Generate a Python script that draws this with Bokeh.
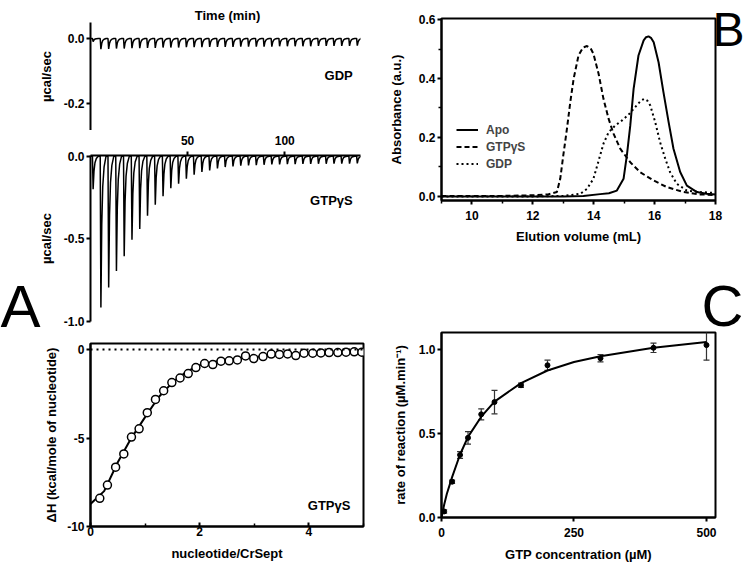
from bokeh.plotting import figure
from bokeh.models import (ColumnDataSource, FixedTicker, NumeralTickFormatter, Label,
                          Span, Whisker, TeeHead, GridBox)
from bokeh.layouts import column
from bokeh.embed import file_html
from bokeh.resources import INLINE

FONT = "Liberation Sans"

# ---------------- data: ITC raw traces ----------------
inj_time = [1, 5, 9, 13, 17, 21, 25, 29, 33, 37, 41, 45, 49, 53, 57, 61, 65, 69,
            73, 77, 81, 85, 89, 93, 97, 101, 105, 109, 113, 117, 121, 125, 129, 133, 137]
gdp_peak = [-0.010, -0.033, -0.032, -0.031, -0.031, -0.030, -0.030, -0.029, -0.029,
            -0.028, -0.028, -0.028, -0.027, -0.027, -0.027, -0.026, -0.026, -0.026,
            -0.026, -0.025, -0.025, -0.025, -0.025, -0.025, -0.024, -0.024, -0.024,
            -0.024, -0.024, -0.023, -0.023, -0.023, -0.023, -0.023, -0.022]
gtp_peak = [-0.20, -0.916, -0.794, -0.694, -0.606, -0.506, -0.44, -0.36, -0.294,
            -0.242, -0.194, -0.166, -0.136, -0.112, -0.096, -0.086, -0.074, -0.066,
            -0.062, -0.058, -0.056, -0.054, -0.052, -0.050, -0.050, -0.048, -0.048,
            -0.047, -0.047, -0.046, -0.046, -0.045, -0.045, -0.045, -0.044]
# shape of one injection spike (time offset in min, fraction of the peak)
spike_dt = [0.0, 0.35, 0.8, 1.3, 2.0, 3.0]
spike_frac = [0.0, 1.0, 0.45, 0.2, 0.07, 0.0]
time_end = 139

# ---------------- data: integrated heats ----------------
molar_ratio = [0.17, 0.31, 0.46, 0.61, 0.75, 0.89, 1.04, 1.19, 1.34, 1.49, 1.64, 1.79,
               1.93, 2.09, 2.24, 2.39, 2.54, 2.69, 2.84, 2.99, 3.16, 3.31, 3.46, 3.61,
               3.76, 3.91, 4.07, 4.22, 4.37, 4.53, 4.68, 4.83, 4.97]
delta_h = [-8.41, -7.66, -6.65, -5.90, -4.95, -4.48, -3.57, -2.82, -2.33, -1.87, -1.61,
           -1.36, -1.02, -0.79, -0.85, -0.66, -0.64, -0.59, -0.36, -0.51, -0.40, -0.26,
           -0.28, -0.25, -0.34, -0.21, -0.21, -0.19, -0.17, -0.17, -0.15, -0.13, -0.15]
fit_ratio = [0, 0.25, 0.5, 0.75, 1.0, 1.25, 1.5, 1.75, 2.0, 2.25, 2.5, 3.0, 3.5, 4.0, 4.5, 5.0]
fit_dh = [-8.73, -8.0, -6.37, -4.99, -3.82, -2.68, -1.87, -1.27, -0.89, -0.70, -0.57,
          -0.42, -0.30, -0.23, -0.19, -0.15]

# ---------------- data: size exclusion chromatography ----------------
apo_vol = [9, 10, 11, 12, 13, 13.66, 14.21, 14.5, 14.76, 14.98, 15.09, 15.2, 15.31,
           15.47, 15.64, 15.72, 15.8, 15.88, 15.97, 16.13, 16.29, 16.46, 16.62, 16.84,
           17.06, 17.39, 17.7, 18]
apo_abs = [0.0, 0.0, 0.0, 0.0, 0.0, 0.002, 0.008, 0.011, 0.02, 0.06, 0.14, 0.24, 0.365,
           0.478, 0.529, 0.540, 0.543, 0.538, 0.523, 0.455, 0.354, 0.252, 0.162, 0.083,
           0.037, 0.015, 0.009, 0.007]
gtps_vol = [9, 10, 11, 12, 12.5, 12.79, 12.9, 13.0, 13.12, 13.23, 13.34, 13.5, 13.65,
            13.78, 13.9, 13.99, 14.16, 14.32, 14.49, 14.65, 14.87, 15.2, 15.53, 15.97,
            16.4, 16.95, 17.5, 18]
gtps_abs = [0.002, 0.002, 0.002, 0.004, 0.007, 0.015, 0.06, 0.139, 0.229, 0.32, 0.399,
            0.478, 0.505, 0.51, 0.502, 0.484, 0.416, 0.331, 0.263, 0.213, 0.162, 0.116,
            0.082, 0.054, 0.032, 0.015, 0.007, 0.005]
gdp_vol = [9, 10, 11, 12, 13, 13.56, 13.78, 13.99, 14.21, 14.32, 14.49, 14.71, 14.93,
           15.14, 15.36, 15.55, 15.66, 15.76, 15.86, 16.02, 16.18, 16.35, 16.51, 16.73,
           17.06, 17.5, 18]
gdp_abs = [0.0, 0.0, 0.0, 0.0, 0.002, 0.009, 0.026, 0.06, 0.139, 0.179, 0.218, 0.241,
           0.258, 0.277, 0.303, 0.325, 0.331, 0.325, 0.308, 0.252, 0.184, 0.128, 0.082,
           0.043, 0.02, 0.015, 0.012]

# ---------------- data: GTPase kinetics ----------------
gtp_conc = [5, 20, 35, 50, 75, 100, 150, 200, 300, 400, 500]
rate = [0.036, 0.213, 0.372, 0.474, 0.614, 0.687, 0.787, 0.906, 0.948, 1.010, 1.026]
rate_err = [0.01, 0.01, 0.02, 0.037, 0.033, 0.07, 0.013, 0.03, 0.022, 0.028, 0.09]
fit_conc = [0, 5, 10, 20, 35, 50, 75, 100, 150, 200, 250, 300, 400, 500]
fit_rate = [0, 0.076, 0.14, 0.24, 0.375, 0.48, 0.60, 0.69, 0.80, 0.875, 0.925, 0.96,
            1.01, 1.045]

PAGE_W, PAGE_H = 744, 567


def build_trace(times, peaks):
    xs, ys = [0.0], [0.0]
    for t, h in zip(times, peaks):
        for dt, f in zip(spike_dt, spike_frac):
            xs.append(t + dt)
            ys.append(h * f)
    xs.append(time_end)
    ys.append(0.0)
    return xs, ys


def make_fig(fw, fh, xr, yr, left, right, top, bottom, **kw):
    p = figure(frame_width=fw, frame_height=fh, x_range=xr, y_range=yr,
               min_border_left=left, min_border_right=right,
               min_border_top=top, min_border_bottom=bottom,
               output_backend="svg", toolbar_location=None, **kw)
    p.grid.visible = False
    p.background_fill_color = "white"
    p.border_fill_color = "white"
    return p


def style_axes(p):
    for ax in p.axis:
        ax.axis_line_width = 2
        ax.axis_line_color = "black"
        ax.major_tick_line_width = 2
        ax.minor_tick_line_width = 1.5
        ax.major_tick_line_color = "black"
        ax.minor_tick_line_color = "black"
        ax.major_tick_out = 4
        ax.major_tick_in = 0
        ax.minor_tick_out = 3
        ax.minor_tick_in = 0
        ax.major_label_text_font = FONT
        ax.major_label_text_font_style = "bold"
        ax.major_label_text_font_size = "12px"
        ax.major_label_text_color = "black"
        ax.axis_label_text_font = FONT
        ax.axis_label_text_font_style = "bold"
        ax.axis_label_text_font_size = "13px"
        ax.axis_label_text_color = "black"
        ax.major_label_standoff = 2
        ax.axis_label_standoff = 5


def text_label(p, x, y, txt, align="right", size="13px", font=FONT, style="bold",
               baseline="middle"):
    p.add_layout(Label(x=x, y=y, text=txt, text_align=align, text_baseline=baseline,
                       text_font=font, text_font_size=size, text_font_style=style,
                       text_color="black"))


# ================= A1: GDP raw trace =================
p1 = make_fig(270, 108, (0, 139), (-0.283, 0.049), 90, 18, 22, 0, x_axis_location=None)
gx, gy = build_trace(inj_time, gdp_peak)
p1.line(gx, gy, line_color="black", line_width=1.5)
p1.outline_line_color = None
style_axes(p1)
p1.yaxis.ticker = FixedTicker(ticks=[-0.2, 0.0])
p1.yaxis.formatter = NumeralTickFormatter(format="0.0")
p1.yaxis.axis_label = "µcal/sec"
p1.yaxis.axis_label_standoff = 7
text_label(p1, 135, -0.114, "GDP")

# ================= A2: GTPgS raw trace =================
p2 = make_fig(270, 166, (0, 139), (-1.0, 0.004), 90, 18, 25, 8, x_axis_location="above")
tx, ty = build_trace(inj_time, gtp_peak)
p2.line(tx, ty, line_color="black", line_width=1.5)
p2.outline_line_color = None
style_axes(p2)
p2.xaxis.ticker = FixedTicker(ticks=[50, 100])
p2.xaxis.major_label_standoff = 7
p2.yaxis.ticker = FixedTicker(ticks=[-1.0, -0.5, 0.0])
p2.yaxis.formatter = NumeralTickFormatter(format="0.0")
p2.yaxis.axis_label = "µcal/sec"
p2.yaxis.axis_label_standoff = 7
text_label(p2, 135, -0.271, "GTPγS")

# ================= A3: integrated heats =================
p3 = make_fig(273, 183, (0, 5), (-10, 0.34), 87, 18, 14, 41)
p3.add_layout(Span(location=0, dimension="width", line_color="black", line_width=2,
                   line_dash="2 4"))
p3.line(fit_ratio, fit_dh, line_color="black", line_width=2)
p3.scatter(molar_ratio, delta_h, marker="circle", size=8, fill_color="white",
           line_color="black", line_width=1.5)
p3.outline_line_color = "black"
p3.outline_line_width = 2
style_axes(p3)
p3.xaxis.ticker = FixedTicker(ticks=[0, 2, 4], minor_ticks=[1, 3, 5])
p3.xaxis.major_tick_in = 4
p3.xaxis.major_tick_out = 0
p3.xaxis.minor_tick_in = 3
p3.xaxis.minor_tick_out = 0
p3.xaxis.major_label_standoff = 0
p3.xaxis.axis_label_standoff = 7
p3.xaxis.axis_label = "nucleotide/CrSept"
p3.yaxis.ticker = FixedTicker(ticks=[-10, -5, 0])
p3.yaxis.formatter = NumeralTickFormatter(format="0")
p3.yaxis.axis_label = "ΔH (kcal/mole of nucleotide)"
text_label(p3, 4.76, -8.81, "GTPγS")

# ================= B: SEC =================
pB = make_fig(274, 182, (9, 18), (-0.0136, 0.6034), 60, 32, 18, 48)
pB.line(apo_vol, apo_abs, line_color="black", line_width=2, legend_label="Apo")
pB.line(gtps_vol, gtps_abs, line_color="black", line_width=2, line_dash="5 3",
        legend_label="GTPγS")
pB.line(gdp_vol, gdp_abs, line_color="black", line_width=2, line_dash="2 3",
        legend_label="GDP")
pB.outline_line_color = "black"
pB.outline_line_width = 2
style_axes(pB)
pB.xaxis.ticker = FixedTicker(ticks=[10, 12, 14, 16, 18], minor_ticks=[9, 11, 13, 15, 17])
pB.xaxis.major_label_standoff = 6
pB.xaxis.axis_label_standoff = 6
pB.xaxis.axis_label = "Elution volume (mL)"
pB.yaxis.ticker = FixedTicker(ticks=[0.0, 0.2, 0.4, 0.6], minor_ticks=[0.1, 0.3, 0.5])
pB.yaxis.formatter = NumeralTickFormatter(format="0.0")
pB.yaxis.axis_label = "Absorbance (a.u.)"
pB.yaxis.axis_label_standoff = 12
lg = pB.legend[0]
lg.location = (15, 28)
lg.border_line_alpha = 0
lg.background_fill_alpha = 0
lg.label_text_font = FONT
lg.label_text_font_style = "bold"
lg.label_text_font_size = "12px"
lg.label_height = 17
lg.glyph_height = 17
lg.glyph_width = 22
lg.spacing = 0
lg.padding = 0
lg.margin = 0
lg.label_standoff = 8

# ================= C: kinetics =================
pC = make_fig(274, 185, (0, 517), (0, 1.101), 63, 29, 84, 50)
pC.line(fit_conc, fit_rate, line_color="black", line_width=2)
upper = [r + e for r, e in zip(rate, rate_err)]
lower = [r - e for r, e in zip(rate, rate_err)]
src = ColumnDataSource(dict(x=gtp_conc, y=rate, upper=upper, lower=lower))
pC.add_layout(Whisker(source=src, base="x", upper="upper", lower="lower",
                      line_color="#333333", line_width=1.2,
                      upper_head=TeeHead(size=6, line_color="#333333", line_width=1.2),
                      lower_head=TeeHead(size=6, line_color="#333333", line_width=1.2)))
pC.scatter("x", "y", source=src, marker="circle", size=5, fill_color="black",
           line_color="black")
pC.outline_line_color = "black"
pC.outline_line_width = 2
style_axes(pC)
pC.xaxis.ticker = FixedTicker(ticks=[0, 250, 500])
pC.xaxis.major_label_standoff = 6
pC.xaxis.axis_label_standoff = 7
pC.xaxis.axis_label = "GTP concentration (µM)"
pC.yaxis.ticker = FixedTicker(ticks=[0.0, 0.5, 1.0])
pC.yaxis.formatter = NumeralTickFormatter(format="0.0")
pC.yaxis.axis_label = "rate of reaction (µM.min⁻¹)"
pC.yaxis.axis_label_standoff = 8

# ================= transparent overlay for panel letters and time title =================
ov = figure(width=PAGE_W, height=PAGE_H, x_range=(0, PAGE_W), y_range=(PAGE_H, 0),
            min_border=0, min_border_left=0, min_border_right=0, min_border_top=0,
            min_border_bottom=0, x_axis_location=None, y_axis_location=None,
            output_backend="svg", toolbar_location=None)
ov.grid.visible = False
ov.outline_line_color = None
ov.background_fill_color = None
ov.border_fill_color = None
text_label(ov, 227, 15, "Time (min)", align="center")
text_label(ov, 0, 306, "A", align="left", size="60px", style="normal",
           baseline="alphabetic")
text_label(ov, 712, 29, "B", align="left", size="48px", style="normal",
           baseline="alphabetic")
text_label(ov, 701, 305, "C", align="left", size="58px", style="normal",
           baseline="alphabetic")

left_col = column(p1, p2, p3)
right_col = column(pB, pC)
layout = GridBox(children=[(left_col, 0, 0), (right_col, 0, 1), (ov, 0, 0, 1, 2)],
                 spacing=0)
open("out.html", "w").write(file_html(layout, INLINE))
